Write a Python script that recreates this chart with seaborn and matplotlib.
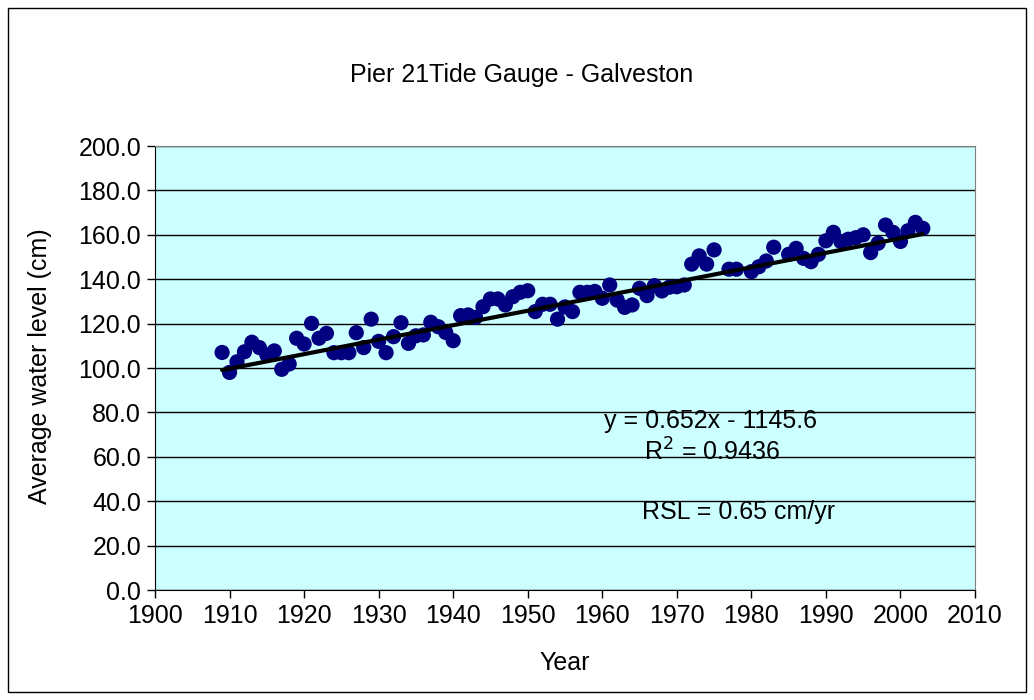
import matplotlib
matplotlib.use("Agg")
import matplotlib.pyplot as plt
import numpy as np
import pandas as pd
import seaborn as sns
from matplotlib.patches import Rectangle

# annual mean water level, Pier 21 Galveston
years = [1909, 1910, 1911, 1912, 1913, 1914, 1915, 1916, 1917, 1918,
         1919, 1920, 1921, 1922, 1923, 1924, 1925, 1926, 1927, 1928,
         1929, 1930, 1931, 1932, 1933, 1934, 1935, 1936, 1937, 1938,
         1939, 1940, 1941, 1942, 1943, 1944, 1945, 1946, 1947, 1948,
         1949, 1950, 1951, 1952, 1953, 1954, 1955, 1956, 1957, 1958,
         1959, 1960, 1961, 1962, 1963, 1964, 1965, 1966, 1967, 1968,
         1969, 1970, 1971, 1972, 1973, 1974, 1975, 1977, 1978, 1980,
         1981, 1982, 1983, 1985, 1986, 1987, 1988, 1989, 1990, 1991,
         1992, 1993, 1994, 1995, 1996, 1997, 1998, 1999, 2000, 2001,
         2002, 2003]
level = [107.0, 98.0, 102.8, 107.3, 111.6, 109.2, 105.9, 107.7, 99.4, 101.8,
         113.4, 110.8, 120.1, 113.4, 115.6, 106.9, 106.9, 106.9, 115.9, 109.2,
         122.0, 112.0, 106.9, 114.1, 120.4, 111.1, 114.5, 114.9, 120.6, 118.6,
         116.0, 112.3, 123.6, 123.9, 122.8, 127.6, 131.1, 131.1, 128.4, 132.1,
         134.1, 134.8, 125.4, 128.7, 128.7, 122.0, 127.5, 125.4, 134.1, 134.1,
         134.5, 131.4, 137.4, 130.6, 127.3, 128.4, 135.9, 132.6, 137.1, 134.7,
         136.4, 136.6, 137.4, 146.8, 150.5, 146.8, 153.2, 144.5, 144.5, 143.4,
         145.6, 148.2, 154.4, 151.2, 153.9, 149.4, 147.9, 151.2, 157.3, 161.1,
         157.0, 158.0, 158.7, 160.0, 152.0, 156.2, 164.4, 161.1, 157.0, 161.8,
         165.6, 162.9]

slope = 0.652
intercept = -1145.6

df = pd.DataFrame({"Year": years, "Level": level})
trend = pd.DataFrame({"Year": [years[0], years[-1]]})
trend["Level"] = slope * trend["Year"] + intercept

sns.set_style("ticks")
plt.rcParams["font.family"] = ["Liberation Sans", "DejaVu Sans"]
plt.rcParams["text.color"] = "black"
plt.rcParams["axes.labelcolor"] = "black"
plt.rcParams["xtick.color"] = "black"
plt.rcParams["ytick.color"] = "black"

fs = 18

fig = plt.figure(figsize=(10.34, 7.0), dpi=100)
ax = fig.add_axes([155 / 1034, 1 - 590 / 700, 820 / 1034, 444 / 700])
ax.set_facecolor("#CCFFFF")

sns.scatterplot(data=df, x="Year", y="Level", ax=ax, color="#000080",
                s=120, edgecolor="none", zorder=3)
sns.lineplot(data=trend, x="Year", y="Level", ax=ax, color="black",
             linewidth=3, zorder=4)

ax.set_xlim(1900, 2010)
ax.set_ylim(0, 200)
ax.set_xticks(np.arange(1900, 2011, 10))
ax.set_yticks(np.arange(0, 201, 20))
ax.set_yticklabels([f"{v:.1f}" for v in np.arange(0, 201, 20)])
ax.yaxis.grid(True, color="black", linewidth=1)
ax.set_axisbelow(True)
ax.tick_params(labelsize=fs, length=6, width=1, color="black", pad=4)
for s in ["top", "right"]:
    ax.spines[s].set_color("#808080")
for s in ["left", "bottom"]:
    ax.spines[s].set_color("black")

ax.set_xlabel("Year", fontsize=fs, va="center")
ax.xaxis.set_label_coords(0.5, (590 - 663) / 444)
ax.set_ylabel("Average water level (cm)", fontsize=fs, va="center")
ax.yaxis.set_label_coords((40 - 155) / 820, 0.505)
fig.text(522 / 1034, 1 - 75 / 700, "Pier 21Tide Gauge - Galveston",
         ha="center", va="center", fontsize=fs)

ax.text(0.678, 0.381, "y = 0.652x - 1145.6", transform=ax.transAxes,
        ha="center", va="center", fontsize=fs)
ax.text(0.679, 0.311, "R$^2$ = 0.9436", transform=ax.transAxes,
        ha="center", va="center", fontsize=fs)
ax.text(0.712, 0.176, "RSL = 0.65 cm/yr", transform=ax.transAxes,
        ha="center", va="center", fontsize=fs)

fig.patches.append(Rectangle((8 / 1034, 8 / 700), 1018 / 1034, 684 / 700,
                             transform=fig.transFigure, fill=False,
                             edgecolor="black", linewidth=1))

fig.savefig("out.png", dpi=100)
